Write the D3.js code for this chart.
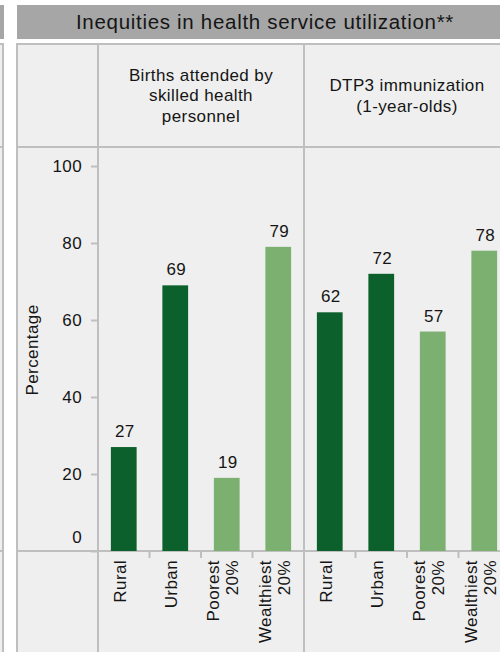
<!DOCTYPE html>
<html>
<head>
<meta charset="utf-8">
<script src="https://cdn.jsdelivr.net/npm/d3@7"></script>
<style>
  body { margin: 0; background: #fff; }
  text { font-family: "Liberation Sans", Arial, sans-serif; fill: #151515; letter-spacing: 0.4px; }
</style>
</head>
<body>
<script>
var title = 'Inequities in health service utilization**';
var categories = ['Rural', 'Urban', 'Poorest 20%', 'Wealthiest 20%'];
var groups = ['area', 'area', 'wealth', 'wealth'];
var headers = [
  ['Births attended by', 'skilled health', 'personnel'],
  ['DTP3 immunization', '(1-year-olds)']
];
var births = [27, 69, 19, 79];
var dtp3 = [62, 72, 57, 78];
var yTicks = [0, 20, 40, 60, 80, 100];
var yLabel = 'Percentage';

var width = 500,
    height = 652;

var border = '#bfbfbf',
    cellFill = '#efefef',
    fs = '17px';

var svg = d3.select('body').append('svg')
    .attr('width', width)
    .attr('height', height);

// layout of the table
var left = 17, colY = 98, colW = 206,
    headTop = 44, headBottom = 147, base = 551;

var y = d3.scaleLinear().domain([0, 100]).range([base, 166]);
var color = d3.scaleOrdinal().domain(['area', 'wealth']).range(['#0b602c', '#7cb071']);

// sliver of the neighbouring panel on the left
svg.append('rect').attr('x', -20).attr('y', 5).attr('width', 24).attr('height', 34).attr('fill', '#a6a6a6');
svg.append('rect').attr('x', -20).attr('y', headTop).attr('width', 23).attr('height', 700)
    .attr('fill', cellFill).attr('stroke', border).attr('stroke-width', 2);
[headBottom, base].forEach(function(v) {
  svg.append('line').attr('x1', 0).attr('x2', 3).attr('y1', v).attr('y2', v)
      .attr('stroke', border).attr('stroke-width', 2);
});

// title bar
svg.append('rect')
    .attr('x', left).attr('y', 5)
    .attr('width', 520).attr('height', 34)
    .attr('fill', '#a6a6a6');

svg.append('text')
    .attr('x', 265).attr('y', 29)
    .attr('text-anchor', 'middle')
    .style('font-size', '20.5px')
    .style('letter-spacing', '0.7px')
    .text(title);

// table body
svg.append('rect')
    .attr('x', left).attr('y', headTop)
    .attr('width', 520).attr('height', 700)
    .attr('fill', cellFill)
    .attr('stroke', border).attr('stroke-width', 2);

[headBottom, base].forEach(function(v) {
  svg.append('line').attr('x1', left).attr('x2', width + 20).attr('y1', v).attr('y2', v)
      .attr('stroke', border).attr('stroke-width', 2);
});
[colY, colY + colW, colY + 2 * colW].forEach(function(v) {
  svg.append('line').attr('x1', v).attr('x2', v).attr('y1', headTop).attr('y2', height + 10)
      .attr('stroke', border).attr('stroke-width', 2);
});

// y axis
var yAxis = svg.append('g')
    .attr('transform', 'translate(' + colY + ',0)')
    .call(d3.axisLeft(y).tickValues(yTicks).tickSize(7).tickPadding(9));

yAxis.select('.domain').remove();
yAxis.selectAll('line').attr('stroke', border).attr('stroke-width', 2);
yAxis.selectAll('text')
    .style('font-size', fs)
    .attr('font-family', null)
    .attr('fill', '#151515')
    .attr('dy', function(d) { return d === 0 ? '-0.5em' : '0.35em'; });

svg.append('text')
    .attr('transform', 'translate(38,350) rotate(-90)')
    .attr('text-anchor', 'middle')
    .style('font-size', fs)
    .text(yLabel);

// one column per indicator
var panels = [births, dtp3];

panels.forEach(function(values, p) {
  var x0 = colY + p * colW;
  var x = d3.scaleBand().domain(categories).range([x0, x0 + colW]).paddingInner(0.5).paddingOuter(0.25);
  var rows = categories.map(function(c, i) { return { cat: c, group: groups[i], value: values[i] }; });

  // header
  var lines = headers[p];
  svg.append('g').selectAll('text')
      .data(lines)
      .enter().append('text')
      .attr('x', x0 + colW / 2)
      .attr('y', function(d, i) { return 95.5 + (i - (lines.length - 1) / 2) * 20.5; })
      .attr('dy', '0.35em')
      .attr('text-anchor', 'middle')
      .style('font-size', fs)
      .text(function(d) { return d; });

  // bars
  svg.append('g').selectAll('rect')
      .data(rows)
      .enter().append('rect')
      .attr('x', function(d) { return x(d.cat); })
      .attr('y', function(d) { return y(d.value); })
      .attr('width', x.bandwidth())
      .attr('height', function(d) { return y(0) - y(d.value); })
      .attr('fill', function(d) { return color(d.group); });

  // value labels
  svg.append('g').selectAll('text')
      .data(rows)
      .enter().append('text')
      .attr('x', function(d) { return x(d.cat) + x.bandwidth() / 2 + 1; })
      .attr('y', function(d) { return y(d.value) - 10; })
      .attr('text-anchor', 'middle')
      .style('font-size', fs)
      .text(function(d) { return d.value; });

  // ticks between categories
  d3.range(1, categories.length).forEach(function(i) {
    var tx = x0 + x.step() * i;
    svg.append('line').attr('x1', tx).attr('x2', tx).attr('y1', base).attr('y2', base + 7)
        .attr('stroke', border).attr('stroke-width', 2);
  });

  // category labels, rotated
  var labels = svg.append('g').selectAll('text')
      .data(rows)
      .enter().append('text')
      .attr('transform', function(d) {
        return 'translate(' + (x(d.cat) + x.bandwidth() / 2 - 4) + ',560) rotate(-90)';
      })
      .attr('text-anchor', 'end')
      .style('font-size', fs);

  labels.each(function(d) {
    var parts = d.cat.split(' ');
    d3.select(this).selectAll('tspan')
        .data(parts)
        .enter().append('tspan')
        .attr('x', 0)
        .attr('y', function(t, i) { return (i - (parts.length - 1) / 2) * 19; })
        .attr('dy', '0.35em')
        .text(function(t) { return t; });
  });
});
</script>
</body>
</html>
